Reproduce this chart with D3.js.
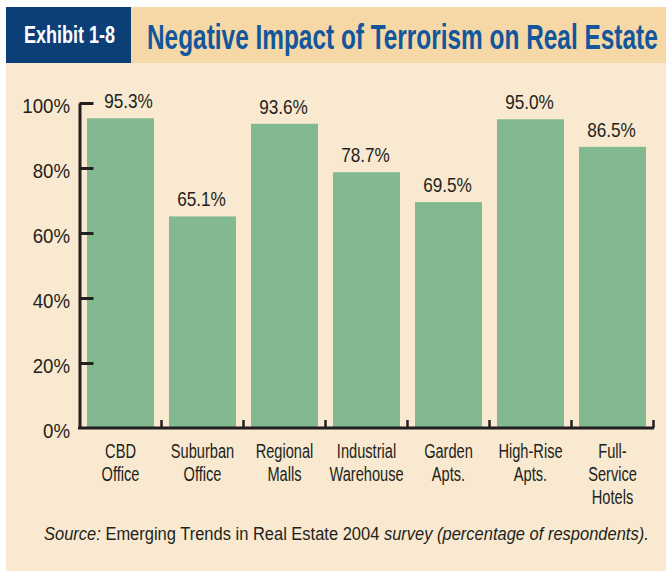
<!DOCTYPE html>
<html><head><meta charset="utf-8">
<script src="https://cdn.jsdelivr.net/npm/d3@7"></script>
<style>
html,body{margin:0;padding:0;background:#fff;}
svg{display:block;}
</style></head>
<body>
<svg id="chart" width="666" height="571"></svg>
<script>
const categories = [["CBD","Office"],["Suburban","Office"],["Regional","Malls"],["Industrial","Warehouse"],["Garden","Apts."],["High-Rise","Apts."],["Full-","Service","Hotels"]];
const values = [95.3, 65.1, 93.6, 78.7, 69.5, 95.0, 86.5];
const yTicks = [0, 20, 40, 60, 80, 100];
const exhibitLabel = "Exhibit 1-8";
const titleText = "Negative Impact of Terrorism on Real Estate";

const FONT = "'Liberation Sans',Arial,sans-serif";
const INK = "#231f20";
const svg = d3.select("#chart");

// backgrounds
svg.append("rect").attr("x",6).attr("y",63).attr("width",660).attr("height",508).attr("fill","#f8e9d0");
svg.append("rect").attr("x",131).attr("y",7).attr("width",535).attr("height",56).attr("fill","#f5d8a6");
svg.append("rect").attr("x",6).attr("y",7).attr("width",125).attr("height",56).attr("fill","#0d3f77");

// fit text to a target width by horizontal scaling
function fitText(x0, y0, targetW, build) {
  const g = svg.append("g").attr("transform",`translate(${x0},${y0})`);
  const t = g.append("text").attr("font-family",FONT);
  build(t);
  const w = t.node().getComputedTextLength();
  g.attr("transform",`translate(${x0},${y0}) scale(${targetW/w},1)`);
  return t;
}
fitText(24, 43, 91, t => t.attr("fill","#fff").attr("font-weight","bold").attr("font-size",24).text(exhibitLabel));
fitText(147, 49, 511, t => t.attr("fill","#12569c").attr("font-weight","bold").attr("font-size",35).text(titleText));

const x = d3.scaleBand().domain(d3.range(categories.length)).range([79.5, 653.5]).paddingInner(0.183).paddingOuter(0.0915);
const y = d3.scaleLinear().domain([0,100]).range([428, 103]);

// bars
svg.append("g").selectAll("rect").data(values).join("rect")
  .attr("x",(d,i)=>x(i)).attr("width",x.bandwidth())
  .attr("y",d=>y(d)).attr("height",d=>y(0)-y(d)).attr("fill","#82b991");

// value labels (first one nudged right to clear the top y tick)
const VSX = 0.86;
svg.append("g").selectAll("g").data(values).join("g")
  .attr("transform",(d,i)=>`translate(${x(i)+x.bandwidth()/2+(i===0?8:-1)},${y(d)-10}) scale(${VSX},1)`)
  .append("text").attr("text-anchor","middle").attr("font-family",FONT).attr("font-size",20).attr("fill",INK)
  .text(d=>d.toFixed(1)+"%");

// y axis
const YSX = 0.89;
const yAxis = svg.append("g").attr("transform","translate(79.5,0)")
  .call(d3.axisLeft(y).tickValues(yTicks).tickFormat(d=>d+"%").tickSizeInner(-14).tickSizeOuter(0));
yAxis.select(".domain").attr("stroke",INK).attr("stroke-width",3);
yAxis.selectAll(".tick line").attr("stroke",INK).attr("stroke-width",3);
yAxis.selectAll(".tick text").attr("x",-9.5/YSX).attr("y",2.5).attr("transform",`scale(${YSX},1)`).attr("text-anchor","end")
  .attr("font-family",FONT).attr("font-size",21).attr("fill",INK).attr("dy","0.35em");
yAxis.selectAll(".tick").filter(d=>d===0).select("line").remove();

// x baseline
svg.append("line").attr("x1",78).attr("x2",654).attr("y1",y(0)).attr("y2",y(0))
  .attr("stroke",INK).attr("stroke-width",3);
const step = x.step();
const bounds = d3.range(1, categories.length+1).map(i => x(i-1) + x.bandwidth() + (step - x.bandwidth())/2);
svg.append("g").selectAll("line").data(bounds).join("line")
  .attr("x1",d=>d).attr("x2",d=>d).attr("y1",y(0)).attr("y2",y(0)-8)
  .attr("stroke",INK).attr("stroke-width",2.5);

// category labels
const CSX = 0.75;
const cl = svg.append("g").selectAll("g").data(categories).join("g")
  .attr("transform",(d,i)=>`translate(${x(i)+x.bandwidth()/2},457.5) scale(${CSX},1)`)
  .append("text").attr("text-anchor","middle").attr("font-family",FONT).attr("font-size",19.5).attr("fill",INK);
cl.selectAll("tspan").data(d=>d).join("tspan")
  .attr("x",0).attr("dy",(d,i)=>i===0?0:23.5).text(d=>d);

// source
fitText(44, 540, 605, t => {
  t.attr("font-size",18.5).attr("fill",INK);
  t.append("tspan").attr("font-style","italic").text("Source:");
  t.append("tspan").text(" Emerging Trends in Real Estate 2004 ");
  t.append("tspan").attr("font-style","italic").text("survey (percentage of respondents).");
});
</script>
</body></html>
